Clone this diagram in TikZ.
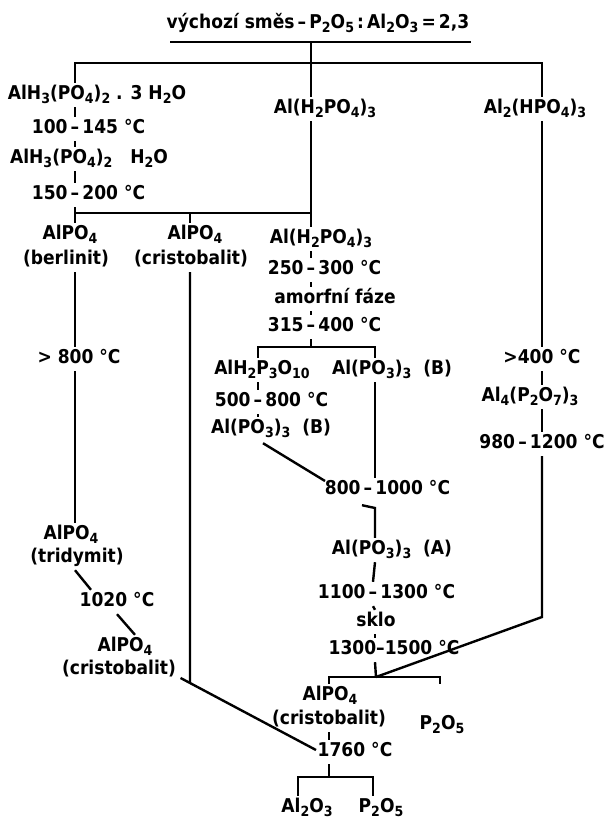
\documentclass[tikz,border=0pt]{standalone}
\usepackage{fontspec}
\setmainfont{DejaVu Sans Condensed}
\usetikzlibrary{calc,intersections}
\newcommand\lsb[1]{\raisebox{-0.35ex}{\fontsize{14}{14}\selectfont #1}}
\newcommand\tmp[2]{\llap{#1\,}–\rlap{\,#2}}
\begin{document}
\begin{tikzpicture}[x=1pt,y=-1pt,line width=2.4pt,
  lbl/.style={inner sep=1.5pt,text height=14pt,text depth=5pt,font=\bfseries\fontsize{19}{21}\selectfont}]
\useasboundingbox (0,0) rectangle (603,819);
% column x positions
\coordinate (L) at (75,0);
\coordinate (K) at (190,0);
\coordinate (M) at (311,0);
\coordinate (N) at (258,0);
\coordinate (P) at (375,0);
\coordinate (S) at (329,0);
\coordinate (R) at (542,0);
\coordinate (Q) at (440,0);
\coordinate (B) at (298,0);
\coordinate (T) at (373,0);
% title
\node[lbl] (t0) at (318,24) {výchozí směs\,–\,P\lsb2O\lsb5\,:\,Al\lsb2O\lsb3\,=\,2,3};
\coordinate (u1) at (170,42);
\coordinate (u2) at (471,42);
\coordinate (j0) at (311,63);
% left column
\node[lbl] (a1) at (97,95) {AlH\lsb3(PO\lsb4)\lsb2 . 3 H\lsb2O};
\node[lbl] (a2) at (75,129) {\tmp{100}{145 °C}};
\node[lbl] (a3) at (89,159) {AlH\lsb3(PO\lsb4)\lsb2 \ \ H\lsb2O};
\node[lbl] (a4) at (75,195) {\tmp{150}{200 °C}};
\coordinate (j1) at (75,213);
\coordinate (jm) at (311,213);
\coordinate (jk) at (190,213);
\node[lbl] (e1) at (70,235) {AlPO\lsb4};
\node[lbl] (e2) at (66,260) {(berlinit)};
\node[lbl] (f) at (79,359) {> 800 °C};
\node[lbl] (g1) at (71,535) {AlPO\lsb4};
\node[lbl] (g2) at (77,558) {(tridymit)};
\node[lbl] (h) at (117,602) {1020 °C};
\node[lbl] (i1) at (125,647) {AlPO\lsb4};
\node[lbl] (i2) at (119,670) {(cristobalit)};
% second column
\node[lbl] (k1) at (195,235) {AlPO\lsb4};
\node[lbl] (k2) at (191,260) {(cristobalit)};
% middle column
\node[lbl] (b1) at (325,109) {Al(H\lsb2PO\lsb4)\lsb3};
\node[lbl] (b2) at (321,239) {Al(H\lsb2PO\lsb4)\lsb3};
\node[lbl] (b3) at (311,270) {\tmp{250}{300 °C}};
\node[lbl] (b4) at (335,299) {amorfní fáze};
\node[lbl] (b5) at (311,327) {\tmp{315}{400 °C}};
\coordinate (jm2) at (311,347);
\node[lbl] (n1) at (262,370) {AlH\lsb2P\lsb3O\lsb{10}};
\node[lbl] (n2) at (258,402) {\tmp{500}{800 °C}};
\node[lbl] (n3) at (271,429) {Al(PO\lsb3)\lsb3 \ (B)};
\node[lbl] (p1) at (392,370) {Al(PO\lsb3)\lsb3 \ (B)};
\node[lbl] (o1) at (368,490) {\tmp{800}{1000 °C}};
\coordinate (pj) at (375,508);
\node[lbl] (p2) at (392,550) {Al(PO\lsb3)\lsb3 \ (A)};
\node[lbl] (p3) at (373,594) {\tmp{1100}{1300 °C}};
\node[lbl] (p4) at (376,622) {sklo};
\node[lbl] (p5) at (394,650) {1300–1500 °C};
\coordinate (jp) at (376,677);
\node[lbl] (q1) at (330,696) {AlPO\lsb4};
\node[lbl] (q2) at (329,720) {(cristobalit)};
\node[lbl] (q3) at (442,725) {P\lsb2O\lsb5};
\node[lbl] (r) at (355,752) {1760 °C};
\coordinate (jb) at (329,777);
\node[lbl] (s1) at (307,808) {Al\lsb2O\lsb3};
\node[lbl] (s2) at (381,808) {P\lsb2O\lsb5};
% right column
\node[lbl] (c1) at (535,109) {Al\lsb2(HPO\lsb4)\lsb3};
\node[lbl] (c2) at (542,359) {>400 °C};
\node[lbl] (c3) at (530,397) {Al\lsb4(P\lsb2O\lsb7)\lsb3};
\node[lbl] (c4) at (542,444) {980\,–\,1200 °C};
\coordinate (rc) at (542,617);
% ---- connectors
\draw[line width=2.8pt] (u1) -- (u2);
\draw (M |- u1) -- (j0);
\draw (a1.north -| L) |- (j0) -| (c1.north -| R);
\draw (j0) -- (b1.north -| M);
\draw (a1.south -| L) -- (a2.north);
\draw (a2.south) -- (a3.north -| L);
\draw (a3.south -| L) -- (a4.north);
\draw (a4.south) -- (j1) -- (jm);
\draw (b1.south -| M) -- (b2.north -| M);
\draw (j1) -- (e1.north -| L);
\draw (e2.south -| L) -- (f.north -| L);
\draw (f.south -| L) -- (g1.north -| L);
\draw (g2.south -| L) -- ($(h.north west)+(14,0)$);
\draw (h.south) -- ($(i1.north)+(10,0)$);
\draw (jk) -- (k1.north -| K);
\draw[name path=dg] ($(i2.east)+(2,8)$) -- ($(r.west)+(1,-2)$);
\path[name path=kv] (k2.south -| K) -- (K |- s1.south);
\path[name intersections={of=dg and kv,by=kj}];
\draw (k2.south -| K) -- (kj);
\draw (b2.south -| M) -- (b3.north);
\draw (b3.south) -- (b4.north -| M);
\draw (b4.south -| M) -- (b5.north);
\draw (b5.south) -- (jm2);
\draw (n1.north -| N) |- (jm2) -| (p1.north -| P);
\draw (n1.south -| N) -- (n2.north);
\draw (n2.south) -- (n3.north -| N);
\draw ($(n3.south -| N)+(5,2)$) -- ($(o1.west)+(-36,-9)$);
\draw (p1.south -| P) -- (o1.north -| P);
\draw ($(o1.south)+(-6,3)$) -- (pj) -- (p2.north -| P);
\draw (p2.south -| P) -- (p3.north);
\draw (p3.south) -- (p4.north -| P);
\draw (p4.south -| P) -- (p5.north -| P);
\draw (p5.south -| P) -- (jp);
\draw (q1.north -| S) |- (jp) -| (Q |- q1.north);
\draw (c1.south -| R) -- (c2.north -| R);
\draw (c2.south -| R) -- (c3.north -| R);
\draw (c3.south -| R) -- (c4.north -| R);
\draw (c4.south -| R) -- (rc) -- (jp);
\draw (q2.south -| S) -- (r.north -| S);
\draw (r.south -| S) -- (jb);
\draw (s1.north -| B) |- (jb) -| (s2.north -| T);
\end{tikzpicture}
\end{document}
